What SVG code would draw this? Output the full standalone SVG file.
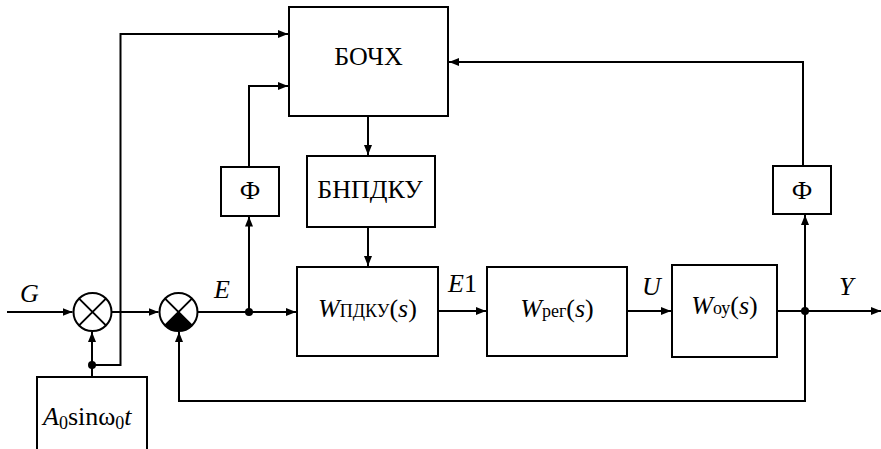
<svg xmlns="http://www.w3.org/2000/svg" width="881" height="449" viewBox="0 0 881 449">
<defs>
<marker id="ar" viewBox="0 0 10 8" refX="10" refY="4" markerWidth="10" markerHeight="8" markerUnits="userSpaceOnUse" orient="auto">
<path d="M0,0 L10,4 L0,8 Z" fill="#000"/>
</marker>
</defs>
<style>
.box{fill:#fff;stroke:#000;stroke-width:2}
.ln{fill:none;stroke:#000;stroke-width:2}
.arw{fill:none;stroke:#000;stroke-width:2;marker-end:url(#ar)}
.t{font-family:"Liberation Serif","Times New Roman",serif;font-size:26px;fill:#000}
.i{font-style:italic}
.sub{font-size:18px}
.dot{fill:#000}
</style>
<rect width="881" height="449" fill="#fff"/>

<g id="connectors">
<path class="arw" d="M7,312 H72.5"/>
<path class="arw" d="M111.5,312 H158.5"/>
<path class="arw" d="M92,377 V332"/>
<path class="arw" d="M92,365 H120.5 V34 H288"/>
<path class="arw" d="M197.5,312 H296"/>
<path class="arw" d="M249,312 V216.5"/>
<path class="arw" d="M249,166 V86 H288"/>
<path class="arw" d="M368,116 V155"/>
<path class="arw" d="M368,227 V266"/>
<path class="arw" d="M438,311 H486"/>
<path class="arw" d="M627,311 H671"/>
<path class="arw" d="M777,311 H881"/>
<path class="arw" d="M805,311 V215"/>
<path class="arw" d="M803,166 V62 H449"/>
<path class="arw" d="M805,311 V401 H179 V332"/>
<circle class="dot" cx="92" cy="365" r="4"/>
<circle class="dot" cx="249" cy="312" r="4"/>
<circle class="dot" cx="805" cy="311" r="4"/>
</g>

<g id="sum1">
<circle class="ln" cx="92.5" cy="312" r="19"/>
<path class="ln" d="M79.1,298.6 L105.9,325.4 M105.9,298.6 L79.1,325.4"/>
</g>

<g id="sum2">
<circle class="ln" cx="178.5" cy="312" r="19"/>
<path d="M178.5,312 L165.1,325.4 A19,19 0 0 0 191.9,325.4 Z" fill="#000"/>
<path class="ln" d="M165.1,298.6 L191.9,325.4 M191.9,298.6 L165.1,325.4"/>
</g>

<g id="gen">
<rect class="box" x="37" y="377" width="110" height="80"/>
<text class="t" x="43" y="425"><tspan class="i">A</tspan><tspan class="sub" dy="4">0</tspan><tspan dy="-4">sinω</tspan><tspan class="sub" dy="4">0</tspan><tspan class="i" dy="-4">t</tspan></text>
</g>

<g id="bochx">
<rect class="box" x="289" y="7" width="159" height="109"/>
<text class="t" x="368.5" y="65" text-anchor="middle">БОЧХ</text>
</g>

<g id="bnpdku">
<rect class="box" x="307" y="156" width="128" height="71"/>
<text class="t" x="370" y="198" text-anchor="middle">БНПДКУ</text>
</g>

<g id="phi1">
<rect class="box" x="221" y="167" width="58" height="49"/>
<text class="t" x="250" y="199" text-anchor="middle">Ф</text>
</g>

<g id="phi2">
<rect class="box" x="773" y="166" width="58" height="48"/>
<text class="t" x="802" y="199" text-anchor="middle">Ф</text>
</g>

<g id="wpdku">
<rect class="box" x="297" y="267" width="141" height="89"/>
<text class="t" x="367.5" y="317" text-anchor="middle"><tspan class="i">W</tspan><tspan class="sub">ПДКУ</tspan>(<tspan class="i">s</tspan>)</text>
</g>

<g id="wreg">
<rect class="box" x="487" y="267" width="140" height="89"/>
<text class="t" x="557" y="317" text-anchor="middle"><tspan class="i">W</tspan><tspan class="sub">рег</tspan>(<tspan class="i">s</tspan>)</text>
</g>

<g id="woy">
<rect class="box" x="672" y="265" width="105" height="92"/>
<text class="t" x="724.5" y="314" text-anchor="middle"><tspan class="i">W</tspan><tspan class="sub">оу</tspan>(<tspan class="i">s</tspan>)</text>
</g>

<g id="labels">
<text class="t i" x="20" y="302">G</text>
<text class="t i" x="214" y="298">E</text>
<text class="t i" x="448" y="292">E<tspan font-style="normal">1</tspan></text>
<text class="t i" x="642" y="295">U</text>
<text class="t i" x="839" y="295">Y</text>
</g>
</svg>
